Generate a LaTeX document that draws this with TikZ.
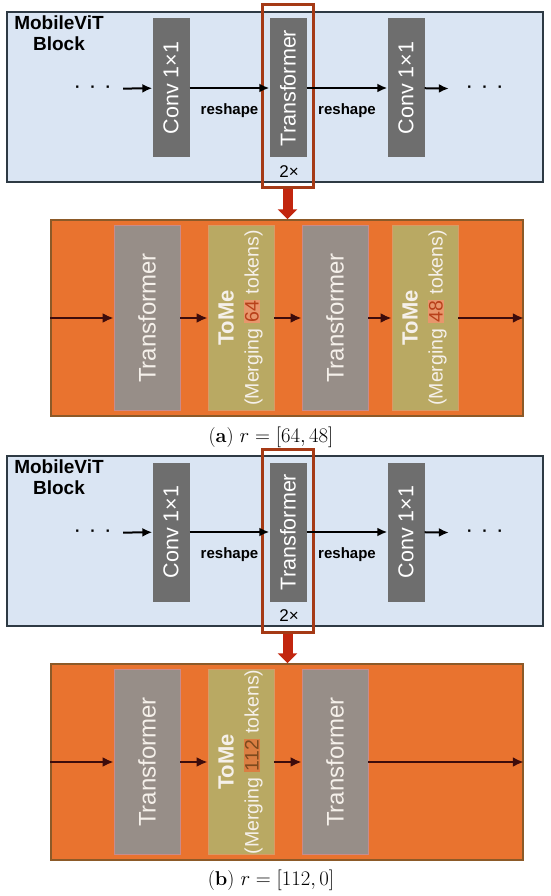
\documentclass[tikz,border=0pt]{standalone}
\usepackage{fontspec}
\usepackage{graphicx}
\usepackage{xcolor}
\usepackage{tikz}
\usetikzlibrary{positioning,arrows.meta,calc}

\newfontfamily\gothic{Liberation Sans}

\definecolor{vitblue}{HTML}{DAE5F3}
\definecolor{frameedge}{HTML}{2E3A44}
\definecolor{convgray}{HTML}{6E6E6E}
\definecolor{repeatred}{HTML}{A53A16}
\definecolor{arrowred}{HTML}{C2260E}
\definecolor{panelorange}{HTML}{E9732F}
\definecolor{paneledge}{HTML}{8C5A28}
\definecolor{tfgray}{HTML}{978E88}
\definecolor{tfedge}{HTML}{C98B8B}
\definecolor{tomekhaki}{HTML}{B9A963}
\definecolor{tomeedge}{HTML}{D99A66}
\definecolor{boxtext}{HTML}{F5F0EA}
\definecolor{flowdark}{HTML}{3D0C0C}
\definecolor{hlaback}{HTML}{E8966C}
\definecolor{hlatext}{HTML}{B8401A}
\definecolor{hlbback}{HTML}{DB7E42}
\definecolor{hlbtext}{HTML}{7E4A1E}

% highlighted token count
\newcommand{\hlnum}[2]{{\setlength{\fboxsep}{1pt}\colorbox{#1back}{\textcolor{#1text}{#2}}}}

\tikzset{
  vitframe/.style={draw=frameedge, fill=vitblue, line width=1.2pt, minimum width=536pt, minimum height=170pt, inner sep=0pt},
  convbox/.style={fill=convgray, text=white, minimum width=37pt, minimum height=139pt, inner sep=0pt, font=\gothic\fontsize{21.5}{25}\selectfont},
  blocklabel/.style={font=\gothic\bfseries\fontsize{19}{21}\selectfont, align=center, inner sep=0pt},
  smalltext/.style={font=\gothic\bfseries\fontsize{15}{18}\selectfont, inner sep=0pt},
  dots/.style={font=\gothic\bfseries\fontsize{16}{18}\selectfont, inner sep=0pt},
  flow/.style={-{Latex[length=10pt,width=9pt]}, line width=2pt},
  redframe/.style={draw=repeatred, line width=3pt, minimum width=51pt, minimum height=183pt, inner sep=0pt},
  bigarrow/.style={-{Triangle[length=10pt,width=19pt]}, line width=10pt, draw=arrowred},
  tomepanel/.style={draw=paneledge, fill=panelorange, line width=1.5pt, minimum width=472pt, minimum height=196pt, inner sep=0pt},
  tfbox/.style={draw=tfedge, fill=tfgray, line width=0.8pt, text=boxtext, minimum width=66pt, minimum height=185pt, inner sep=0pt, font=\gothic\fontsize{24}{28}\selectfont},
  tomebox/.style={tfbox, draw=tomeedge, fill=tomekhaki, font=\gothic\fontsize{19.5}{25}\selectfont},
  oflow/.style={-{Latex[length=11pt,width=10pt]}, line width=2.2pt, draw=flowdark},
  subcap/.style={font=\fontsize{20}{23}\selectfont, inner sep=0pt},
}

\begin{document}
\begin{tikzpicture}[x=1pt, y=-1pt]
    \useasboundingbox (0,0) rectangle (550,896);

    % MobileViT block (same in both parts)
    \foreach \p/\dy in {a/0,b/444}{
    \begin{scope}[shift={(0,\dy)}, name prefix=\p-]
        \node[vitframe] (frame) at (275,97) {};
        \node[blocklabel] (title) at (59,33) {MobileViT\\Block};
        \node[dots] (dotsl) at (93,89) {·\hspace{10pt}·\hspace{10pt}·};
        \node[convbox] (conv1) at (171,88) {\rotatebox{90}{Conv 1×1}};
        \node[convbox] (trans) at (288,88) {\rotatebox{90}{Transformer}};
        \node[convbox] (conv2) at (406,88) {\rotatebox{90}{Conv 1×1}};
        \node[dots] (dotsr) at (485,89) {·\hspace{10pt}·\hspace{10pt}·};
        \node[smalltext, font=\gothic\fontsize{17}{20}\selectfont] (rep) at (289,172) {2×};
        \node[redframe] (redbox) at (287.5,96.5) {};

        \draw[flow, shorten <=12pt] (dotsl) -- (conv1);
        \draw[flow] (conv1) -- (trans) node[smalltext, midway, below=15pt] (rs1) {reshape};
        \draw[flow] (trans) -- (conv2) node[smalltext, midway, below=15pt] (rs2) {reshape};
        \draw[flow, shorten >=18pt] (conv2) -- (dotsr);
    \end{scope}
    }

    % (a) two merges
    \node[tomepanel] (a-panel) at (287,318) {};
    \node[tfbox] (a-tf1) at (147,318) {\rotatebox{90}{Transformer}};
    \node[tomebox] (a-tome1) at (241,318) {\rotatebox{90}{\begin{tabular}{@{}c@{}}{\bfseries\fontsize{22}{26}\selectfont ToMe}\\(Merging \hlnum{hla}{64} tokens)\end{tabular}}};
    \node[tfbox] (a-tf2) at (335,318) {\rotatebox{90}{Transformer}};
    \node[tomebox] (a-tome2) at (425,318) {\rotatebox{90}{\begin{tabular}{@{}c@{}}{\bfseries\fontsize{22}{26}\selectfont ToMe}\\(Merging \hlnum{hla}{48} tokens)\end{tabular}}};

    \draw[oflow] (a-panel.west) -- (a-tf1);
    \draw[oflow] (a-tf1) -- (a-tome1);
    \draw[oflow] (a-tome1) -- (a-tf2);
    \draw[oflow] (a-tf2) -- (a-tome2);
    \draw[oflow] (a-tome2) -- (a-panel.east);
    \draw[bigarrow] (a-redbox.south) -- (a-redbox.south |- a-panel.north);

    \node[subcap] (capa) at (271,437) {(\textbf{a}) $r=[64,48]$};

    % (b) one merge
    \node[tomepanel] (b-panel) at (287,762) {};
    \node[tfbox] (b-tf1) at (147,762) {\rotatebox{90}{Transformer}};
    \node[tomebox] (b-tome1) at (241,762) {\rotatebox{90}{\begin{tabular}{@{}c@{}}{\bfseries\fontsize{22}{26}\selectfont ToMe}\\(Merging \hlnum{hlb}{112} tokens)\end{tabular}}};
    \node[tfbox] (b-tf2) at (335,762) {\rotatebox{90}{Transformer}};

    \draw[oflow] (b-panel.west) -- (b-tf1);
    \draw[oflow] (b-tf1) -- (b-tome1);
    \draw[oflow] (b-tome1) -- (b-tf2);
    \draw[oflow] (b-tf2) -- (b-panel.east);
    \draw[bigarrow] (b-redbox.south) -- (b-redbox.south |- b-panel.north);

    \node[subcap] (capb) at (271,880) {(\textbf{b}) $r=[112,0]$};
\end{tikzpicture}
\end{document}
